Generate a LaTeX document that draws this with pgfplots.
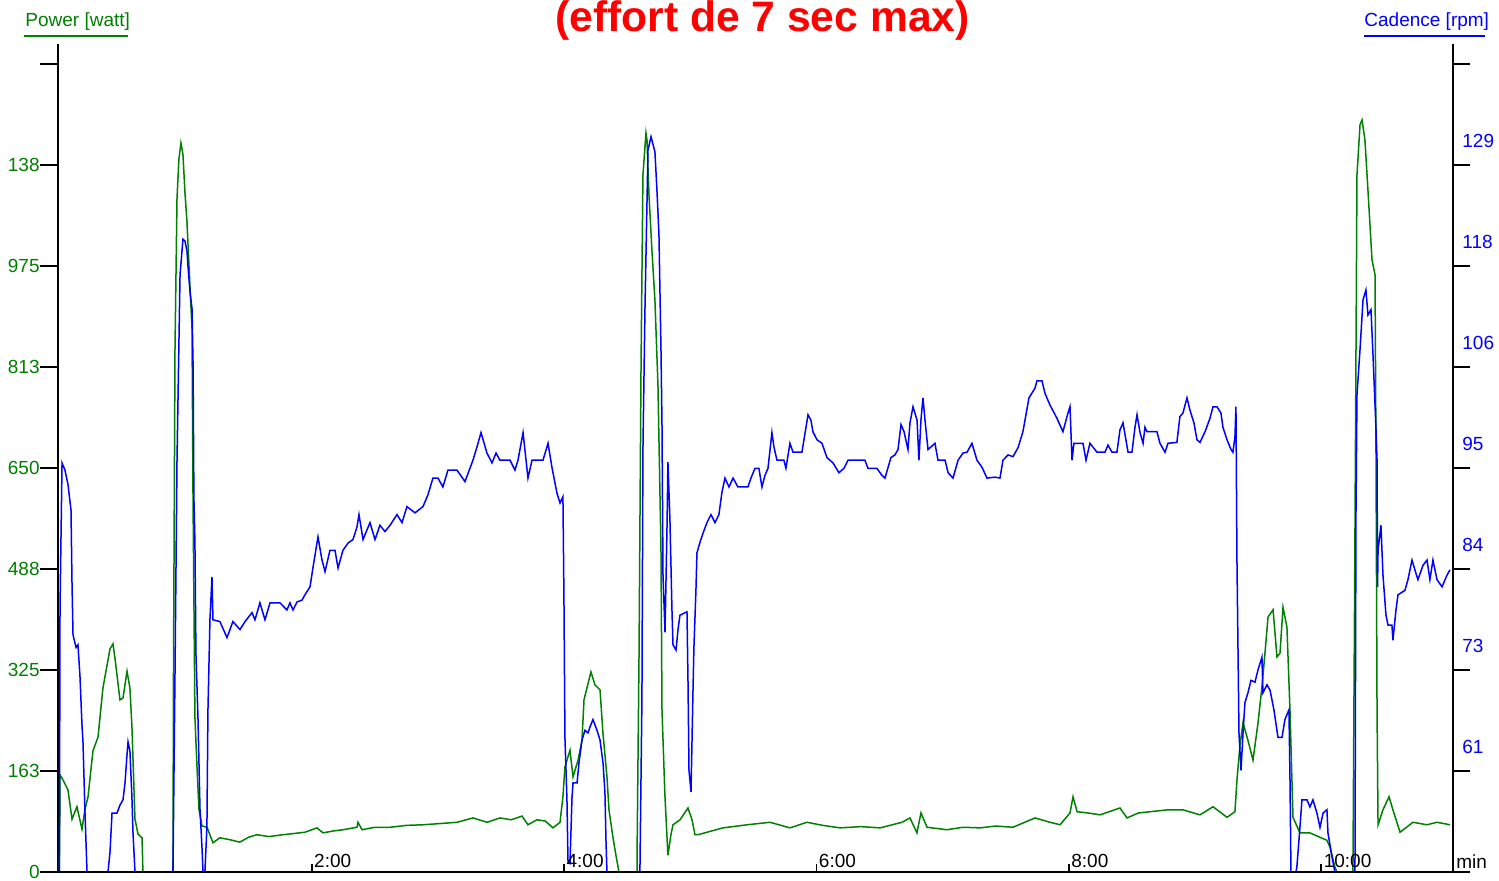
\documentclass[border=0pt]{standalone}
\usepackage{fontspec}
\setmainfont{Liberation Sans}
\usepackage{pgfplots}
\usepackage{pgfplotstable}
\pgfplotsset{compat=1.18}
\definecolor{pgreen}{RGB}{0,128,0}
\definecolor{cblue}{RGB}{0,0,255}
\definecolor{tred}{RGB}{255,0,0}

\pgfplotstableread{
t W
0.000 0
0.005 156
0.021 151
0.068 132
0.100 85
0.139 105
0.179 69
0.203 101
0.227 121
0.266 195
0.306 217
0.345 296
0.401 359
0.425 367
0.441 343
0.480 277
0.504 280
0.536 323
0.559 296
0.575 233
0.599 85
0.623 61
0.655 55
0.662 0
0.900 0
0.904 312
0.916 840
0.932 1084
0.947 1147
0.963 1173
0.979 1155
0.995 1093
1.011 1046
1.027 975
1.051 874
1.059 600
1.074 249
1.090 171
1.106 101
1.130 74
1.170 72
1.217 47
1.271 55
1.350 52
1.429 48
1.500 56
1.565 60
1.660 57
1.771 60
1.860 62
1.946 64
2.041 71
2.089 63
2.170 66
2.247 68
2.358 72
2.366 80
2.398 68
2.500 72
2.620 72
2.750 75
2.882 76
3.020 78
3.151 80
3.278 87
3.389 80
3.491 87
3.580 84
3.666 90
3.713 76
3.784 84
3.850 82
3.911 71
3.967 80
3.990 121
4.006 169
4.046 196
4.070 153
4.110 180
4.141 212
4.157 277
4.212 322
4.244 301
4.284 293
4.307 224
4.339 153
4.355 100
4.386 56
4.410 27
4.434 0
4.577 0
4.579 60
4.593 349
4.609 816
4.624 1121
4.648 1189
4.656 1178
4.672 1089
4.695 1001
4.719 920
4.743 784
4.767 518
4.775 261
4.798 124
4.822 27
4.846 60
4.862 76
4.918 84
4.981 103
5.013 84
5.036 60
5.060 60
5.258 71
5.450 76
5.631 80
5.789 71
5.924 80
6.050 75
6.186 71
6.350 73
6.503 71
6.677 80
6.740 87
6.795 63
6.827 95
6.875 72
7.033 68
7.160 72
7.295 71
7.420 74
7.556 72
7.731 87
7.850 80
7.929 76
8.008 95
8.032 121
8.064 97
8.150 95
8.246 92
8.404 103
8.460 87
8.550 95
8.642 97
8.780 100
8.903 100
9.038 92
9.141 105
9.252 88
9.315 97
9.331 148
9.355 204
9.379 240
9.418 212
9.458 180
9.498 240
9.529 298
9.553 352
9.577 410
9.617 422
9.648 346
9.672 352
9.696 426
9.727 394
9.751 261
9.775 88
9.830 63
9.909 63
10.044 51
10.068 40
10.107 8
10.123 0
10.250 0
10.266 542
10.282 1121
10.306 1202
10.322 1210
10.345 1178
10.369 1097
10.401 985
10.425 961
10.433 663
10.441 261
10.449 76
10.488 100
10.536 121
10.567 100
10.623 64
10.726 80
10.837 76
10.916 80
11.019 76
}\powertable

\pgfplotstableread{
t C
0.000 50
0.005 79.6
0.021 95.9
0.044 95.1
0.068 93.5
0.092 90.6
0.100 82.4
0.108 76.6
0.132 75.2
0.147 75.5
0.163 72.0
0.179 66.5
0.187 64.6
0.203 56.6
0.219 50
0.385 50
0.401 52.2
0.417 56.6
0.456 56.6
0.480 57.5
0.504 58.1
0.520 60.0
0.536 63.2
0.544 64.6
0.559 63.6
0.575 58.3
0.583 54.5
0.599 50
0.900 50
0.916 72.1
0.932 96.2
0.956 117.0
0.979 121.0
0.995 120.8
1.011 119.7
1.019 118.0
1.035 115.1
1.051 113.2
1.059 107.1
1.066 91.9
1.074 87.0
1.082 74.5
1.098 67.4
1.114 57.1
1.130 52.7
1.138 50
1.153 50
1.169 55.0
1.177 68.0
1.193 78.3
1.209 83.1
1.217 78.3
1.272 78.1
1.328 76.3
1.375 78.1
1.431 77.2
1.471 78.1
1.526 79.1
1.550 78.3
1.589 80.2
1.629 78.3
1.669 80.2
1.748 80.2
1.803 79.4
1.827 80.2
1.851 79.4
1.883 80.3
1.922 80.5
1.946 81.1
1.986 82.0
2.010 84.2
2.049 87.6
2.081 85.0
2.105 83.7
2.144 86.1
2.184 86.1
2.208 84.1
2.247 86.1
2.287 86.9
2.326 87.3
2.358 88.7
2.374 90.1
2.406 87.3
2.461 89.2
2.501 87.3
2.540 88.9
2.580 88.2
2.620 88.9
2.675 90.1
2.715 89.2
2.754 91.0
2.818 90.3
2.881 91.0
2.920 92.3
2.960 94.2
3.000 94.2
3.039 93.2
3.079 95.1
3.150 95.1
3.214 93.8
3.277 96.2
3.309 97.7
3.341 99.3
3.388 97.0
3.428 95.9
3.460 97.0
3.491 96.2
3.571 96.2
3.610 95.1
3.634 96.2
3.674 99.3
3.713 94.2
3.745 96.2
3.832 96.2
3.872 98.1
3.903 95.4
3.943 92.5
3.967 91.4
3.990 92.1
3.998 80.9
4.006 65.1
4.022 58.1
4.030 51.3
4.046 51.0
4.062 58.4
4.070 60.0
4.102 60.0
4.117 62.2
4.141 64.8
4.165 65.9
4.189 65.6
4.205 66.3
4.228 67.1
4.260 65.9
4.284 64.8
4.308 62.2
4.323 58.9
4.331 53.6
4.339 50
4.600 50
4.616 69.3
4.624 97.4
4.640 113.1
4.664 131.0
4.688 132.5
4.719 130.8
4.735 126.5
4.751 121.5
4.767 108.6
4.775 100.2
4.783 83.3
4.799 76.9
4.815 88.9
4.822 96.0
4.838 89.5
4.854 79.4
4.862 75.5
4.886 74.9
4.902 77.2
4.917 78.8
4.973 79.2
4.981 71.5
4.989 61.4
5.005 59.0
5.020 69.9
5.028 75.2
5.044 81.6
5.052 85.8
5.076 87.0
5.100 88.0
5.131 89.2
5.163 90.1
5.195 89.2
5.226 90.1
5.250 92.6
5.274 94.2
5.306 93.2
5.338 94.2
5.377 93.2
5.456 93.2
5.480 94.2
5.512 95.3
5.543 95.3
5.567 93.2
5.591 94.5
5.615 95.3
5.646 99.3
5.662 97.7
5.686 96.2
5.741 96.2
5.757 95.3
5.789 98.1
5.813 97.1
5.884 97.1
5.916 99.9
5.932 101.3
5.955 100.7
5.971 99.4
6.003 98.5
6.043 98.1
6.082 96.5
6.130 95.9
6.177 94.8
6.217 95.3
6.249 96.2
6.383 96.2
6.407 95.3
6.478 95.3
6.518 94.5
6.542 94.2
6.589 96.5
6.621 96.8
6.645 97.4
6.669 100.2
6.693 99.4
6.724 97.4
6.740 100.4
6.764 102.2
6.796 100.7
6.811 96.2
6.827 100.7
6.843 103.2
6.859 100.7
6.883 97.4
6.938 98.1
6.962 96.2
7.018 96.2
7.042 94.8
7.081 94.2
7.121 96.2
7.160 97.0
7.192 97.1
7.231 98.1
7.271 96.2
7.311 95.4
7.350 94.2
7.414 94.3
7.453 94.2
7.477 96.2
7.517 96.8
7.556 96.6
7.596 97.6
7.635 99.4
7.683 103.2
7.731 104.3
7.746 105.1
7.786 105.1
7.810 103.7
7.849 102.4
7.905 100.9
7.952 99.4
7.992 101.5
8.008 102.2
8.024 96.2
8.039 98.1
8.111 98.1
8.135 96.2
8.166 98.1
8.222 97.1
8.285 97.1
8.309 97.9
8.341 97.1
8.380 97.1
8.404 99.6
8.428 100.4
8.468 97.1
8.499 97.1
8.523 99.9
8.539 101.3
8.563 99.3
8.587 98.1
8.602 99.9
8.618 99.4
8.697 99.4
8.721 98.1
8.761 97.1
8.784 98.1
8.855 98.2
8.879 101.1
8.903 101.5
8.935 103.2
8.959 101.8
8.990 100.4
9.014 98.5
9.038 98.2
9.078 99.4
9.117 100.9
9.141 102.2
9.173 102.2
9.204 101.5
9.220 99.9
9.252 98.5
9.284 97.4
9.299 97.1
9.315 98.8
9.323 102.2
9.331 85.0
9.347 65.6
9.363 61.4
9.379 65.6
9.394 69.0
9.418 70.1
9.442 71.5
9.474 71.3
9.498 72.7
9.529 74.1
9.537 70.1
9.569 71.0
9.593 70.4
9.624 68.2
9.656 65.1
9.688 65.1
9.711 67.1
9.743 68.2
9.751 60.7
9.759 50
9.799 50
9.806 50.6
9.830 55.0
9.846 58.1
9.886 58.1
9.909 57.3
9.933 58.1
9.965 56.6
9.989 55.0
10.013 56.6
10.044 57.0
10.052 54.4
10.084 51.7
10.107 50
10.266 50
10.274 90.1
10.282 103.5
10.306 108.6
10.330 114.2
10.353 115.3
10.369 112.5
10.393 113.1
10.409 108.0
10.433 99.6
10.441 96.2
10.445 82.0
10.449 86.1
10.472 88.9
10.488 83.3
10.512 78.8
10.528 77.7
10.559 77.7
10.567 76.0
10.591 79.4
10.607 81.1
10.662 81.6
10.686 82.8
10.718 85.0
10.741 83.9
10.765 82.8
10.805 84.4
10.837 85.0
10.860 82.8
10.884 85.0
10.916 82.8
10.956 82.0
10.995 83.3
11.019 83.9
}\cadencetable

\begin{document}
\begin{tikzpicture}[x=1pt,y=1pt]
\path[use as bounding box] (0,0) rectangle (749.5,440);
\pgfplotsset{
  common/.style={
    at={(29pt,4pt)}, anchor=south west, scale only axis,
    width=697.5pt, height=414pt,
    xmin=-0.011, xmax=11.043,
    /pgf/number format/assume math mode=true,
    tick label style={font=\fontsize{9.5}{11}\selectfont},
    axis line style={-, line width=0.9pt, black},
    major tick style={line width=0.9pt, black},
  }
}
% power axis
\begin{axis}[common,
  axis x line*=bottom, axis y line*=left,
  ymin=0, ymax=1332.2,
  xtick=\empty,
  tick align=outside, major tick length=9pt,
  ytick={0,162.5,325,487.5,650,812.5,975,1137.5,1300},
  yticklabels={0,163,325,488,650,813,975,138,},
  yticklabel style={text=pgreen, anchor=east, inner sep=0pt},
]
\addplot[pgreen, line width=0.75pt] table[x=t, y=W] {\powertable};
\end{axis}
% cadence axis
\begin{axis}[common,
  axis x line=none, axis y line*=right,
  ymin=50, ymax=142.9,
  xtick=\empty,
  tick align=outside, major tick length=8.5pt,
  ytick={50,61.333,72.667,84,95.333,106.667,118,129.333,140.667},
  yticklabels={,61,73,84,95,106,118,129,},
  yticklabel style={text=cblue, anchor=west, inner sep=0pt, yshift=12pt, xshift=-4pt},
]
\addplot[cblue, line width=0.75pt] table[x=t, y=C] {\cadencetable};
\end{axis}
% time ticks
\begin{axis}[common,
  axis x line*=bottom, axis y line=none,
  ymin=0, ymax=1,
  tick align=inside, major tick length=4pt,
  xtick={2,4,6,8,10},
  xticklabels={2:00,4:00,6:00,8:00,10:00},
  xticklabel style={anchor=south west, inner sep=1pt, yshift=1pt, text=black},
]
\end{axis}
% texts
\node[anchor=base, text=tred, font=\fontsize{21.3}{24}\selectfont\bfseries] at (381.25,424) {(effort de 7 sec max)};
\node[anchor=base west, inner sep=0pt, text=pgreen, font=\fontsize{9.5}{11}\selectfont] at (12.5,426.5) {Power [watt]};
\draw[pgreen, line width=1pt] (12,422) -- (64,422);
\node[anchor=base west, inner sep=0pt, text=cblue, font=\fontsize{9.5}{11}\selectfont] at (682,426.5) {Cadence [rpm]};
\draw[cblue, line width=1pt] (682,422) -- (742.5,422);
\node[anchor=base west, inner sep=0pt, font=\fontsize{9.5}{11}\selectfont] at (728,6) {min};
\end{tikzpicture}
\end{document}
